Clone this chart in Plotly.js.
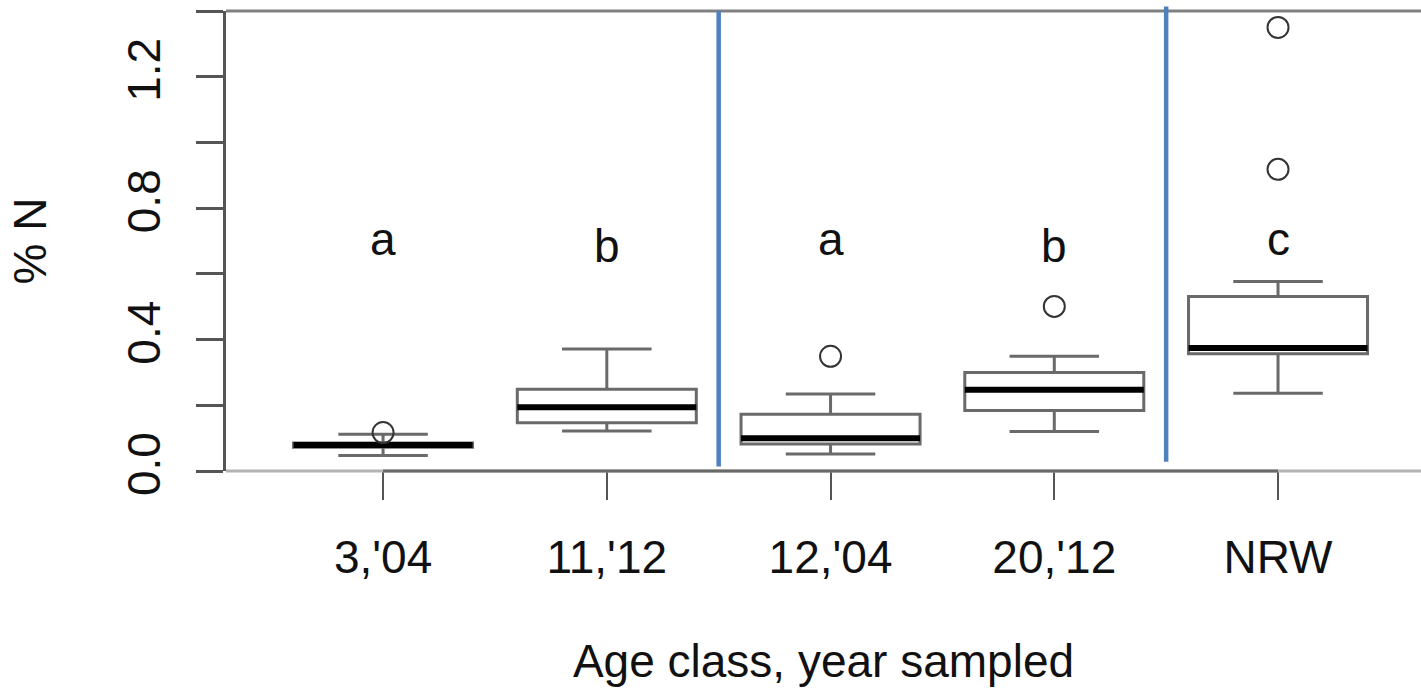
<!DOCTYPE html>
<html>
<head>
<meta charset="utf-8">
<script src="https://cdn.plot.ly/plotly-3.0.1.min.js"></script>
<style>
  html, body { margin: 0; padding: 0; background: #ffffff; }
  #chart { width: 1421px; height: 692px; }
</style>
</head>
<body>
<div id="chart"></div>
<script>
// ---- data ----
const categories = ["3,'04", "11,'12", "12,'04", "20,'12", "NRW"];
const lowerWhisker = [0.047, 0.122, 0.052, 0.120, 0.237];
const q1Values     = [0.072, 0.147, 0.082, 0.184, 0.357];
const medianValues = [0.079, 0.194, 0.100, 0.247, 0.374];
const q3Values     = [0.085, 0.249, 0.173, 0.300, 0.531];
const upperWhisker = [0.112, 0.371, 0.234, 0.349, 0.577];

const outlierCategories = ["3,'04", "12,'04", "20,'12", "NRW", "NRW"];
const outlierValues     = [0.117, 0.349, 0.501, 0.918, 1.350];

const groupLetters = ["a", "b", "a", "b", "c"];
const letterHeights = [0.706, 0.685, 0.706, 0.685, 0.706];

const yTickValues = [0, 0.2, 0.4, 0.6, 0.8, 1.0, 1.2, 1.4];
const yTickLabels = ["0.0", "", "0.4", "", "0.8", "", "1.2", ""];

const separatorPositions = [1.5, 3.5];

// ---- styling ----
const FONT = "Liberation Sans, Arial, sans-serif";
const FS = 46;

const boxTrace = {
  type: "box",
  x: categories,
  q1: q1Values,
  median: medianValues,
  q3: q3Values,
  lowerfence: lowerWhisker,
  upperfence: upperWhisker,
  width: 0.8,
  whiskerwidth: 0.5,
  fillcolor: "rgba(255,255,255,0)",
  line: { color: "#6a6a6a", width: 3 },
  boxpoints: false,
  hoverinfo: "skip",
  showlegend: false
};

const medianTrace = {
  type: "box",
  x: categories,
  q1: medianValues,
  median: medianValues,
  q3: medianValues,
  lowerfence: medianValues,
  upperfence: medianValues,
  width: 0.8,
  whiskerwidth: 0,
  fillcolor: "rgba(0,0,0,0)",
  line: { color: "#000000", width: 6 },
  boxpoints: false,
  hoverinfo: "skip",
  showlegend: false
};

const outlierTrace = {
  type: "scatter",
  mode: "markers",
  x: outlierCategories,
  y: outlierValues,
  marker: { symbol: "circle-open", size: 21, color: "#333333", line: { width: 2, color: "#333333" } },
  hoverinfo: "skip",
  showlegend: false
};

const annotations = categories.map((c, i) => ({
  x: c, y: letterHeights[i], xref: "x", yref: "y",
  text: groupLetters[i], showarrow: false,
  xanchor: "center", yanchor: "middle",
  font: { family: FONT, size: FS, color: "#111111" }
}));

const shapes = [];
// plot frame: top border and light bottom border
shapes.push({ type: "line", xref: "paper", yref: "paper", x0: 0, x1: 1, y0: 1, y1: 1,
  line: { color: "#808080", width: 3 } });
shapes.push({ type: "line", xref: "paper", yref: "paper", x0: 0, x1: 1, y0: 0, y1: 0,
  line: { color: "#b4b4b4", width: 3 } });
// dark axis segment between first and last category
shapes.push({ type: "line", xref: "x", yref: "paper", x0: 0, x1: categories.length - 1, y0: 0, y1: 0,
  line: { color: "#6a6a6a", width: 3 } });
// blue separators
shapes.push({ type: "line", xref: "x", yref: "paper", x0: separatorPositions[0], x1: separatorPositions[0],
  y0: 0.01, y1: 1, line: { color: "#4f81bd", width: 4.5 } });
shapes.push({ type: "line", xref: "x", yref: "paper", x0: separatorPositions[1], x1: separatorPositions[1],
  y0: 0.02, y1: 1.01, line: { color: "#4f81bd", width: 4.5 } });

const layout = {
  width: 1421, height: 692,
  margin: { l: 226, r: 0, t: 11, b: 221, pad: 0 },
  paper_bgcolor: "#ffffff", plot_bgcolor: "#ffffff",
  showlegend: false,
  boxmode: "overlay",
  font: { family: FONT, size: FS, color: "#111111" },
  xaxis: {
    type: "category",
    categoryorder: "array", categoryarray: categories,
    range: [-0.702, 4.639],
    showgrid: false, zeroline: false, showline: false,
    ticks: "outside", ticklen: 28, tickwidth: 2, tickcolor: "#555555",
    ticklabelstandoff: 18,
    tickfont: { family: FONT, size: FS, color: "#111111" },
    title: { text: "Age class, year sampled", standoff: 62, font: { family: FONT, size: FS, color: "#111111" } },
    fixedrange: true
  },
  yaxis: {
    range: [0, 1.4],
    tickvals: yTickValues, ticktext: yTickLabels,
    tickangle: -90,
    showgrid: false, zeroline: false,
    showline: true, linecolor: "#555555", linewidth: 3,
    ticks: "outside", ticklen: 27, tickwidth: 3, tickcolor: "#555555",
    ticklabelstandoff: 18,
    tickfont: { family: FONT, size: FS, color: "#111111" },
    title: { text: "% N", standoff: 57, font: { family: FONT, size: FS, color: "#111111" } },
    fixedrange: true
  },
  annotations: annotations,
  shapes: shapes
};

Plotly.newPlot("chart", [boxTrace, medianTrace, outlierTrace], layout, { staticPlot: true, displayModeBar: false });
</script>
</body>
</html>
